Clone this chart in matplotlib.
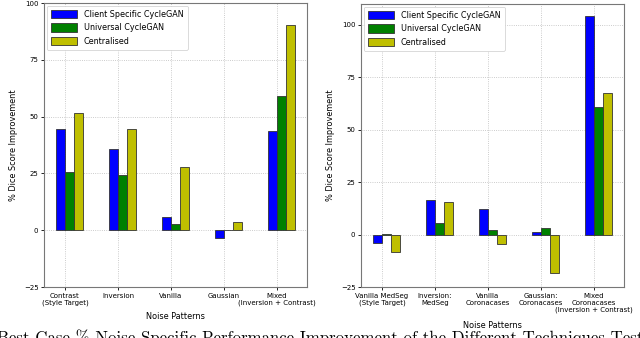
import matplotlib
matplotlib.use("Agg")
import matplotlib.pyplot as plt
import numpy as np

series_names = ["Client Specific CycleGAN", "Universal CycleGAN", "Centralised"]
colors = ["blue", "green", "y"]

left_categories = ["Contrast\n(Style Target)", "Inversion", "Vanilla", "Gaussian",
                   "Mixed\n(Inversion + Contrast)"]
left_client = [44.5, 35.6, 5.9, -3.5, 43.7]
left_universal = [25.8, 24.4, 2.6, 0.0, 59.2]
left_central = [51.8, 44.6, 27.7, 3.4, 90.4]

right_categories = ["Vanilla MedSeg\n(Style Target)", "Inversion:\nMedSeg",
                    "Vanilla\nCoronacases", "Gaussian:\nCoronacases",
                    "Mixed\nCoronacases\n(Inversion + Contrast)"]
right_client = [-4.2, 16.3, 12.0, 1.3, 104.4]
right_universal = [0.5, 5.7, 2.2, 3.2, 60.9]
right_central = [-8.5, 15.6, -4.5, -18.3, 67.5]

yticks = [-25, 0, 25, 50, 75, 100]

fig = plt.figure(figsize=(6.4, 3.38), dpi=100)
ax1 = fig.add_axes([44/640, 1-287/338, 263/640, 284/338])
ax2 = fig.add_axes([361/640, 1-287/338, 263/640, 283/338])

w = 0.17
TICK_FS = 5.0
LAB_FS = 5.9
LEG_FS = 5.8

def draw(ax, cats, data, ylim, xpad):
    x = np.arange(len(cats))
    for i, (vals, c, name) in enumerate(zip(data, colors, series_names)):
        ax.bar(x + (i - 1) * w, vals, w, align="edge", color=c,
               edgecolor="#333333", linewidth=0.6, label=name, zorder=3)
    ax.set_xticks(x)
    ax.set_xticklabels(cats, fontsize=TICK_FS)
    ax.set_yticks(yticks)
    ax.tick_params(axis="y", labelsize=TICK_FS, length=2, width=0.6, pad=2)
    ax.tick_params(axis="x", length=2, width=0.6, pad=2)
    ax.set_ylim(*ylim)
    ax.grid(True, linestyle=":", color="#bbbbbb", linewidth=0.6, zorder=0)
    ax.set_axisbelow(True)
    for s in ax.spines.values():
        s.set_color("#777777")
        s.set_linewidth(0.8)
    ax.set_ylabel("% Dice Score Improvement", fontsize=LAB_FS, labelpad=4)
    ax.set_xlabel("Noise Patterns", fontsize=LAB_FS, labelpad=xpad)
    leg = ax.legend(loc="upper left", fontsize=LEG_FS, frameon=True,
                    handlelength=3.3, handleheight=1.2, handletextpad=0.8,
                    borderpad=0.5, labelspacing=0.55, fancybox=True,
                    framealpha=1.0, borderaxespad=0.35)
    leg.get_frame().set_linewidth(0.5)

draw(ax1, left_categories, [left_client, left_universal, left_central], (-25, 100), 4)
draw(ax2, right_categories, [right_client, right_universal, right_central], (-25, 110), 6)

fig.text(-0.004, -0.016, "Best Case % Noise Specific Performance Improvement of the Different Techniques Tested",
         fontsize=12.1, family=["cmr10", "DejaVu Serif"], ha="left", va="baseline")

fig.savefig("out.png", dpi=100)
